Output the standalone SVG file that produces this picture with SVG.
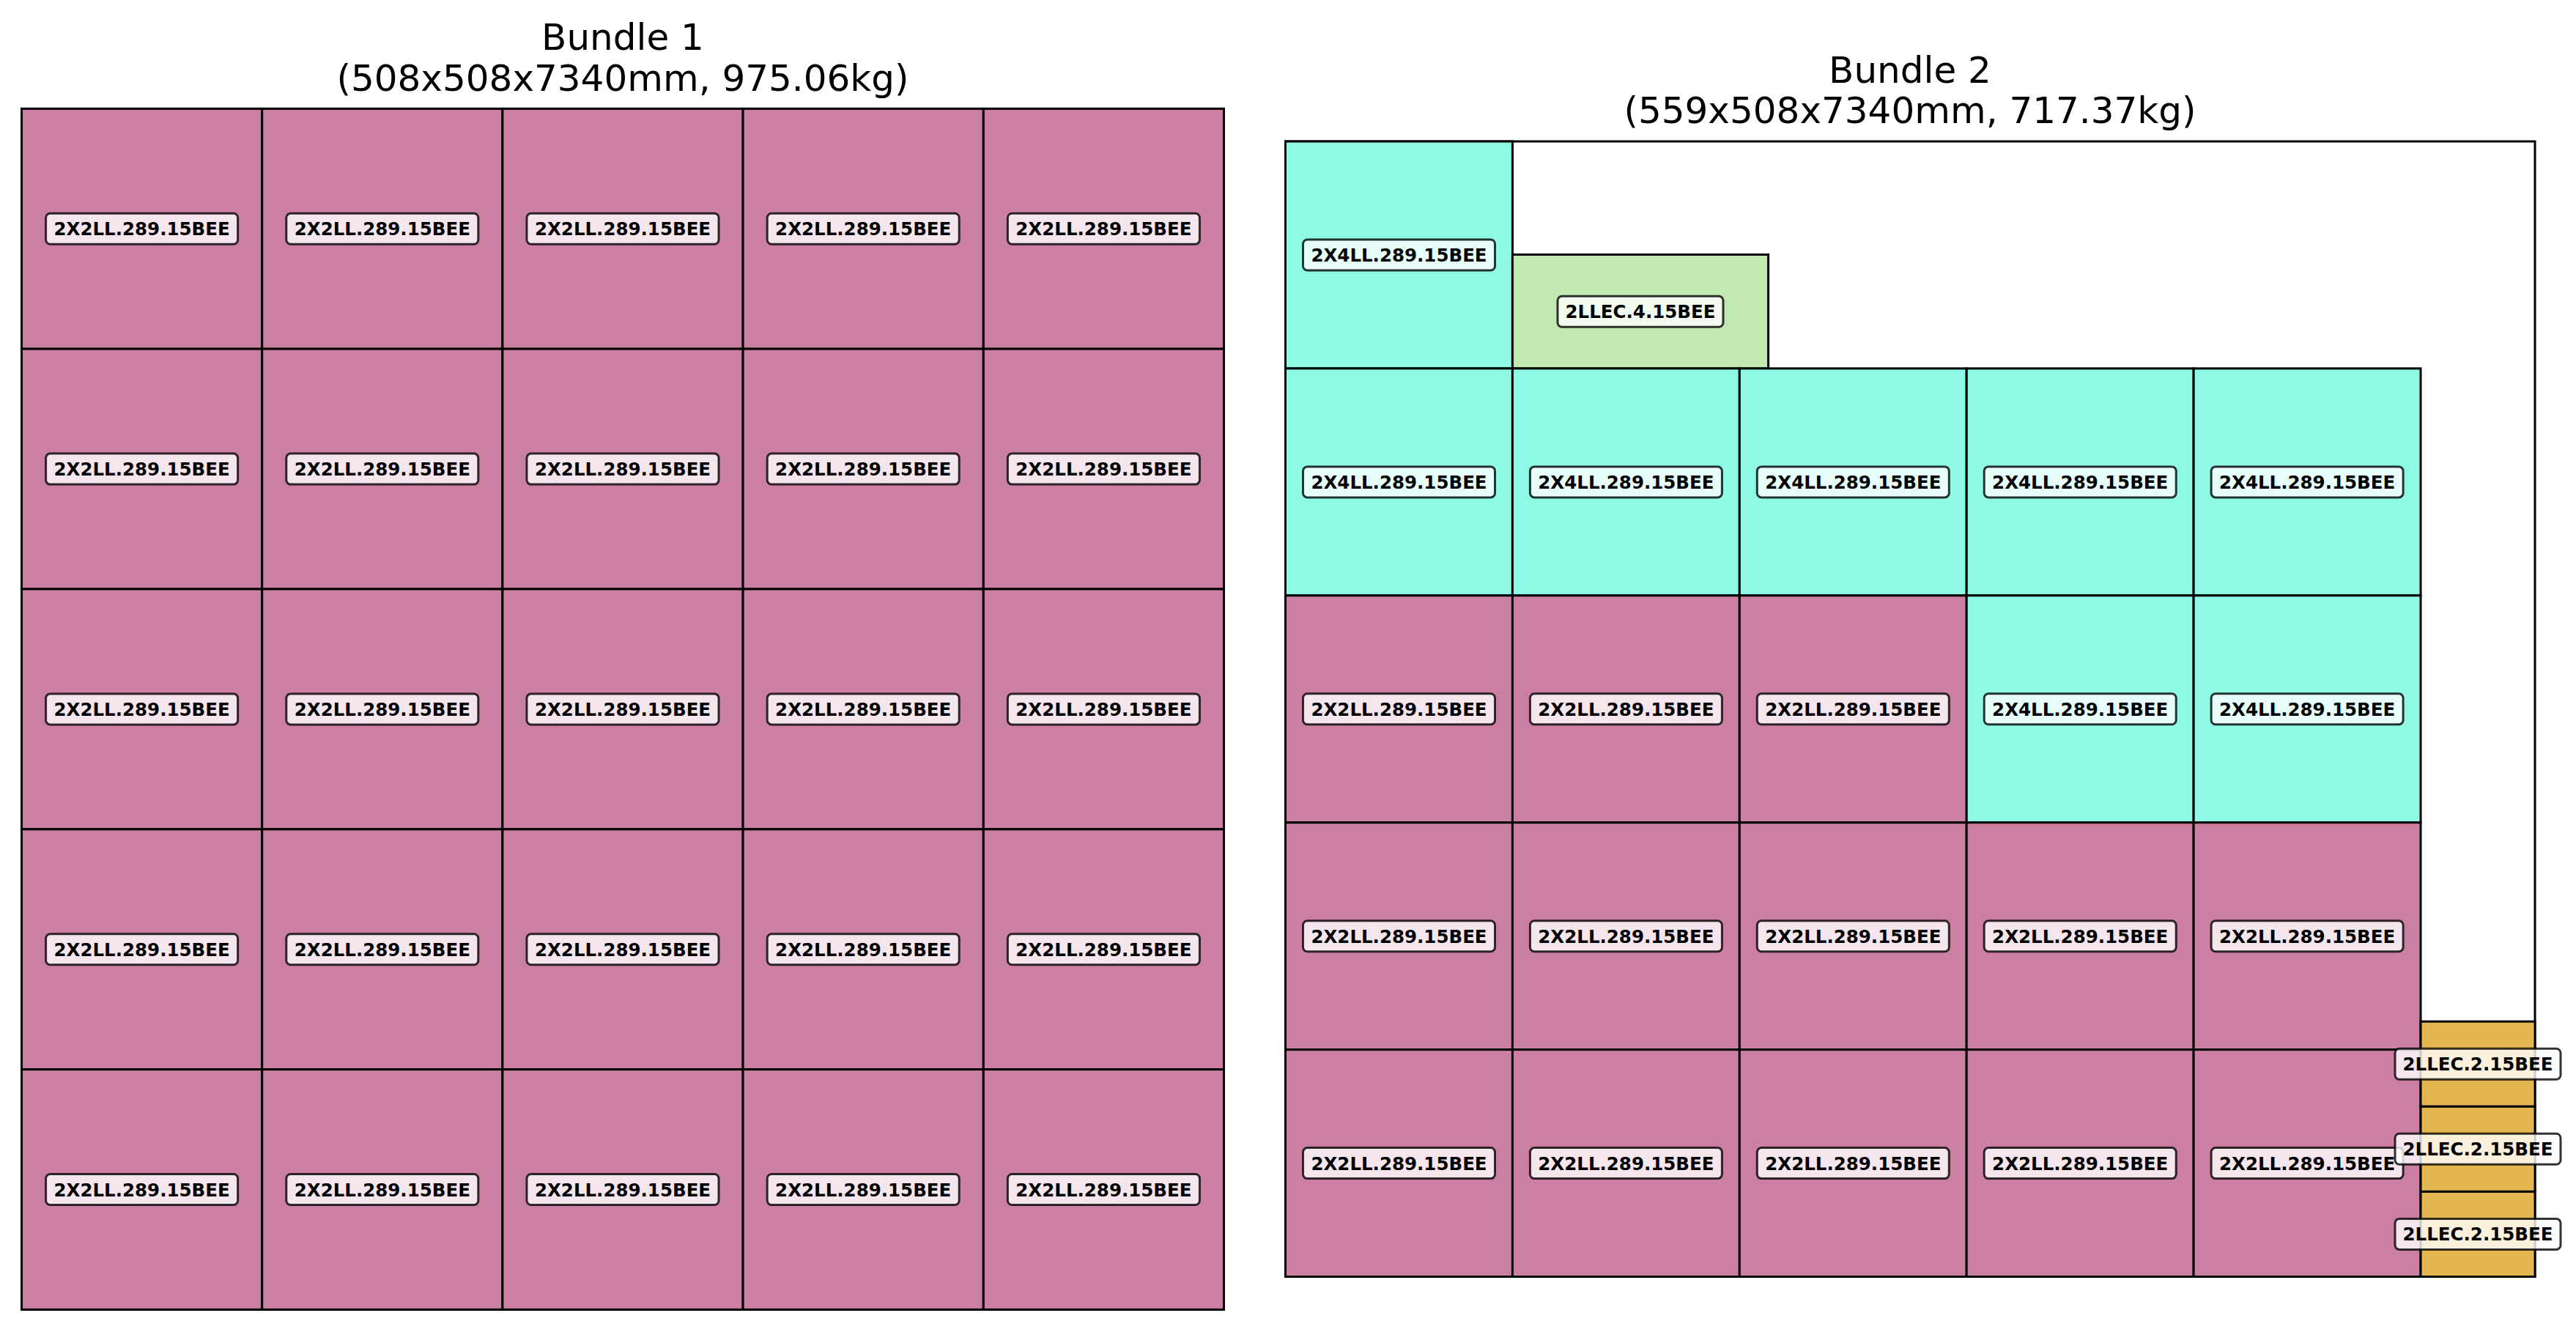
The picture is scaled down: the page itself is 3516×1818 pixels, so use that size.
<svg xmlns="http://www.w3.org/2000/svg" width="3516" height="1818" viewBox="0 0 3516 1818">
<style>
.bg{fill:#ffffff}
.frame{fill:#ffffff;stroke:#000;stroke-width:3}
.c{stroke:#000;stroke-width:3}
.pink{fill:#cb7fa3}
.cyan{fill:#8efae6}
.green{fill:#c2e9b2}
.yellow{fill:#e3b64f}
.lb{fill:#ffffff;fill-opacity:0.8;stroke:#000;stroke-opacity:0.8;stroke-width:3}
.lt{font-family:"DejaVu Sans",sans-serif;font-weight:bold;font-size:24.5px;text-anchor:middle;fill:#000}
.title{font-family:"DejaVu Sans",sans-serif;font-size:50px;text-anchor:middle;fill:#000}
</style>
<rect class="bg" x="0" y="0" width="3516" height="1818"/>
<defs>
<g id="L15"><rect class="lb" x="-131" y="-21" width="262" height="42" rx="6"/></g>
<g id="L13"><rect class="lb" x="-113" y="-21" width="226" height="42" rx="6"/></g>
</defs>

<g id="titles">
<text class="title" x="850" y="68">Bundle 1</text>
<text class="title" x="850" y="124">(508x508x7340mm, 975.06kg)</text>
<text class="title" x="2607" y="113">Bundle 2</text>
<text class="title" x="2607" y="168">(559x508x7340mm, 717.37kg)</text>
</g>

<g id="bundle1">
<rect class="frame" x="29.5" y="148.4" width="1641" height="1639"/>
<g id="b1-cells">
<rect class="c pink" x="29.5" y="148.4" width="328.2" height="327.8"/><rect class="c pink" x="357.7" y="148.4" width="328.2" height="327.8"/><rect class="c pink" x="685.9" y="148.4" width="328.2" height="327.8"/><rect class="c pink" x="1014.1" y="148.4" width="328.2" height="327.8"/><rect class="c pink" x="1342.3" y="148.4" width="328.2" height="327.8"/>
<rect class="c pink" x="29.5" y="476.2" width="328.2" height="327.8"/><rect class="c pink" x="357.7" y="476.2" width="328.2" height="327.8"/><rect class="c pink" x="685.9" y="476.2" width="328.2" height="327.8"/><rect class="c pink" x="1014.1" y="476.2" width="328.2" height="327.8"/><rect class="c pink" x="1342.3" y="476.2" width="328.2" height="327.8"/>
<rect class="c pink" x="29.5" y="804" width="328.2" height="327.8"/><rect class="c pink" x="357.7" y="804" width="328.2" height="327.8"/><rect class="c pink" x="685.9" y="804" width="328.2" height="327.8"/><rect class="c pink" x="1014.1" y="804" width="328.2" height="327.8"/><rect class="c pink" x="1342.3" y="804" width="328.2" height="327.8"/>
<rect class="c pink" x="29.5" y="1131.8" width="328.2" height="327.8"/><rect class="c pink" x="357.7" y="1131.8" width="328.2" height="327.8"/><rect class="c pink" x="685.9" y="1131.8" width="328.2" height="327.8"/><rect class="c pink" x="1014.1" y="1131.8" width="328.2" height="327.8"/><rect class="c pink" x="1342.3" y="1131.8" width="328.2" height="327.8"/>
<rect class="c pink" x="29.5" y="1459.6" width="328.2" height="327.8"/><rect class="c pink" x="357.7" y="1459.6" width="328.2" height="327.8"/><rect class="c pink" x="685.9" y="1459.6" width="328.2" height="327.8"/><rect class="c pink" x="1014.1" y="1459.6" width="328.2" height="327.8"/><rect class="c pink" x="1342.3" y="1459.6" width="328.2" height="327.8"/>
</g>
</g>

<g id="bundle2">
<rect class="frame" x="1754.5" y="193" width="1705.5" height="1549.5"/>
<g id="b2-cells">
<rect class="c cyan" x="1754.5" y="193" width="309.9" height="309.9"/>
<rect class="c green" x="2064.4" y="347.5" width="349.2" height="155.4"/>
<rect class="c cyan" x="1754.5" y="502.9" width="309.9" height="309.9"/><rect class="c cyan" x="2064.4" y="502.9" width="309.9" height="309.9"/><rect class="c cyan" x="2374.3" y="502.9" width="309.9" height="309.9"/><rect class="c cyan" x="2684.2" y="502.9" width="309.9" height="309.9"/><rect class="c cyan" x="2994.1" y="502.9" width="309.9" height="309.9"/>
<rect class="c pink" x="1754.5" y="812.8" width="309.9" height="309.9"/><rect class="c pink" x="2064.4" y="812.8" width="309.9" height="309.9"/><rect class="c pink" x="2374.3" y="812.8" width="309.9" height="309.9"/><rect class="c cyan" x="2684.2" y="812.8" width="309.9" height="309.9"/><rect class="c cyan" x="2994.1" y="812.8" width="309.9" height="309.9"/>
<rect class="c pink" x="1754.5" y="1122.7" width="309.9" height="309.9"/><rect class="c pink" x="2064.4" y="1122.7" width="309.9" height="309.9"/><rect class="c pink" x="2374.3" y="1122.7" width="309.9" height="309.9"/><rect class="c pink" x="2684.2" y="1122.7" width="309.9" height="309.9"/><rect class="c pink" x="2994.1" y="1122.7" width="309.9" height="309.9"/>
<rect class="c pink" x="1754.5" y="1432.6" width="309.9" height="309.9"/><rect class="c pink" x="2064.4" y="1432.6" width="309.9" height="309.9"/><rect class="c pink" x="2374.3" y="1432.6" width="309.9" height="309.9"/><rect class="c pink" x="2684.2" y="1432.6" width="309.9" height="309.9"/><rect class="c pink" x="2994.1" y="1432.6" width="309.9" height="309.9"/>
<rect class="c yellow" x="3304" y="1394.2" width="156" height="116.1"/><rect class="c yellow" x="3304" y="1510.3" width="156" height="116.1"/><rect class="c yellow" x="3304" y="1626.4" width="156" height="116.1"/>
</g>
</g>

<g id="labels1">
<g transform="translate(193.6,312.3)"><use href="#L15"/><text class="lt" y="9">2X2LL.289.15BEE</text></g>
<g transform="translate(521.8,312.3)"><use href="#L15"/><text class="lt" y="9">2X2LL.289.15BEE</text></g>
<g transform="translate(850,312.3)"><use href="#L15"/><text class="lt" y="9">2X2LL.289.15BEE</text></g>
<g transform="translate(1178.2,312.3)"><use href="#L15"/><text class="lt" y="9">2X2LL.289.15BEE</text></g>
<g transform="translate(1506.4,312.3)"><use href="#L15"/><text class="lt" y="9">2X2LL.289.15BEE</text></g>
<g transform="translate(193.6,640.1)"><use href="#L15"/><text class="lt" y="9">2X2LL.289.15BEE</text></g>
<g transform="translate(521.8,640.1)"><use href="#L15"/><text class="lt" y="9">2X2LL.289.15BEE</text></g>
<g transform="translate(850,640.1)"><use href="#L15"/><text class="lt" y="9">2X2LL.289.15BEE</text></g>
<g transform="translate(1178.2,640.1)"><use href="#L15"/><text class="lt" y="9">2X2LL.289.15BEE</text></g>
<g transform="translate(1506.4,640.1)"><use href="#L15"/><text class="lt" y="9">2X2LL.289.15BEE</text></g>
<g transform="translate(193.6,967.9)"><use href="#L15"/><text class="lt" y="9">2X2LL.289.15BEE</text></g>
<g transform="translate(521.8,967.9)"><use href="#L15"/><text class="lt" y="9">2X2LL.289.15BEE</text></g>
<g transform="translate(850,967.9)"><use href="#L15"/><text class="lt" y="9">2X2LL.289.15BEE</text></g>
<g transform="translate(1178.2,967.9)"><use href="#L15"/><text class="lt" y="9">2X2LL.289.15BEE</text></g>
<g transform="translate(1506.4,967.9)"><use href="#L15"/><text class="lt" y="9">2X2LL.289.15BEE</text></g>
<g transform="translate(193.6,1295.7)"><use href="#L15"/><text class="lt" y="9">2X2LL.289.15BEE</text></g>
<g transform="translate(521.8,1295.7)"><use href="#L15"/><text class="lt" y="9">2X2LL.289.15BEE</text></g>
<g transform="translate(850,1295.7)"><use href="#L15"/><text class="lt" y="9">2X2LL.289.15BEE</text></g>
<g transform="translate(1178.2,1295.7)"><use href="#L15"/><text class="lt" y="9">2X2LL.289.15BEE</text></g>
<g transform="translate(1506.4,1295.7)"><use href="#L15"/><text class="lt" y="9">2X2LL.289.15BEE</text></g>
<g transform="translate(193.6,1623.5)"><use href="#L15"/><text class="lt" y="9">2X2LL.289.15BEE</text></g>
<g transform="translate(521.8,1623.5)"><use href="#L15"/><text class="lt" y="9">2X2LL.289.15BEE</text></g>
<g transform="translate(850,1623.5)"><use href="#L15"/><text class="lt" y="9">2X2LL.289.15BEE</text></g>
<g transform="translate(1178.2,1623.5)"><use href="#L15"/><text class="lt" y="9">2X2LL.289.15BEE</text></g>
<g transform="translate(1506.4,1623.5)"><use href="#L15"/><text class="lt" y="9">2X2LL.289.15BEE</text></g>
</g>

<g id="labels2">
<g transform="translate(1909.5,348)"><use href="#L15"/><text class="lt" y="9">2X4LL.289.15BEE</text></g>
<g transform="translate(2239,425.2)"><use href="#L13"/><text class="lt" y="9">2LLEC.4.15BEE</text></g>
<g transform="translate(1909.5,657.9)"><use href="#L15"/><text class="lt" y="9">2X4LL.289.15BEE</text></g>
<g transform="translate(2219.4,657.9)"><use href="#L15"/><text class="lt" y="9">2X4LL.289.15BEE</text></g>
<g transform="translate(2529.3,657.9)"><use href="#L15"/><text class="lt" y="9">2X4LL.289.15BEE</text></g>
<g transform="translate(2839.2,657.9)"><use href="#L15"/><text class="lt" y="9">2X4LL.289.15BEE</text></g>
<g transform="translate(3149.1,657.9)"><use href="#L15"/><text class="lt" y="9">2X4LL.289.15BEE</text></g>
<g transform="translate(1909.5,967.8)"><use href="#L15"/><text class="lt" y="9">2X2LL.289.15BEE</text></g>
<g transform="translate(2219.4,967.8)"><use href="#L15"/><text class="lt" y="9">2X2LL.289.15BEE</text></g>
<g transform="translate(2529.3,967.8)"><use href="#L15"/><text class="lt" y="9">2X2LL.289.15BEE</text></g>
<g transform="translate(2839.2,967.8)"><use href="#L15"/><text class="lt" y="9">2X4LL.289.15BEE</text></g>
<g transform="translate(3149.1,967.8)"><use href="#L15"/><text class="lt" y="9">2X4LL.289.15BEE</text></g>
<g transform="translate(1909.5,1277.7)"><use href="#L15"/><text class="lt" y="9">2X2LL.289.15BEE</text></g>
<g transform="translate(2219.4,1277.7)"><use href="#L15"/><text class="lt" y="9">2X2LL.289.15BEE</text></g>
<g transform="translate(2529.3,1277.7)"><use href="#L15"/><text class="lt" y="9">2X2LL.289.15BEE</text></g>
<g transform="translate(2839.2,1277.7)"><use href="#L15"/><text class="lt" y="9">2X2LL.289.15BEE</text></g>
<g transform="translate(3149.1,1277.7)"><use href="#L15"/><text class="lt" y="9">2X2LL.289.15BEE</text></g>
<g transform="translate(1909.5,1587.6)"><use href="#L15"/><text class="lt" y="9">2X2LL.289.15BEE</text></g>
<g transform="translate(2219.4,1587.6)"><use href="#L15"/><text class="lt" y="9">2X2LL.289.15BEE</text></g>
<g transform="translate(2529.3,1587.6)"><use href="#L15"/><text class="lt" y="9">2X2LL.289.15BEE</text></g>
<g transform="translate(2839.2,1587.6)"><use href="#L15"/><text class="lt" y="9">2X2LL.289.15BEE</text></g>
<g transform="translate(3149.1,1587.6)"><use href="#L15"/><text class="lt" y="9">2X2LL.289.15BEE</text></g>
<g transform="translate(3382,1452.2)"><use href="#L13"/><text class="lt" y="9">2LLEC.2.15BEE</text></g>
<g transform="translate(3382,1568.3)"><use href="#L13"/><text class="lt" y="9">2LLEC.2.15BEE</text></g>
<g transform="translate(3382,1684.4)"><use href="#L13"/><text class="lt" y="9">2LLEC.2.15BEE</text></g>
</g>
</svg>
